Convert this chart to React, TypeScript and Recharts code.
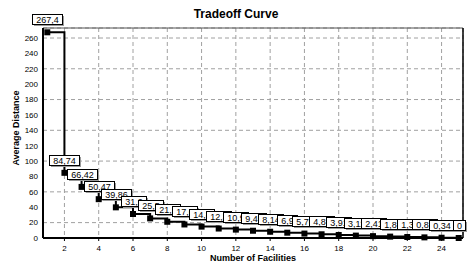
import { LineChart, Line, XAxis, YAxis, CartesianGrid, LabelList, ReferenceLine } from 'recharts';

const facilities = [1, 2, 3, 4, 5, 6, 7, 8, 9, 10, 11, 12, 13, 14, 15, 16, 17, 18, 19, 20, 21, 22, 23, 24, 25];
const avgDistance = [
  267.4, 84.74, 66.42, 50.47, 39.86, 31.2, 25.5, 21.1, 17.6, 14.8, 12.3, 10.9, 9.45,
  8.14, 6.9, 5.76, 4.83, 3.91, 3.11, 2.41, 1.8, 1.3, 0.82, 0.34, 0,
];
const xTicks = [2, 4, 6, 8, 10, 12, 14, 16, 18, 20, 22, 24];
const yTicks = [0, 20, 40, 60, 80, 100, 120, 140, 160, 180, 200, 220, 240, 260];

const data = facilities.map((n, i) => ({ n, d: avgDistance[i] }));

const FONT = '"Liberation Sans", Arial, sans-serif';

let canvas: HTMLCanvasElement | null = null;
function textWidth(s: string, font: string) {
  if (!canvas) canvas = document.createElement('canvas');
  const ctx = canvas.getContext('2d');
  if (!ctx) return s.length * 5;
  ctx.font = font;
  return ctx.measureText(s).width;
}

// boxed value label above each point, comma decimal like the original
function ValueBox(props: any) {
  const { x, y, value } = props;
  const txt = String(value).replace('.', ',');
  const w = Math.round(textWidth(txt, `9px ${FONT}`)) + 7;
  const h = 10;
  const bx = Math.round(x - w / 2) + 0.5;
  const by = Math.round(y - 8 - h) + 0.5;
  return (
    <g>
      <rect x={bx + 1.5} y={by + 1.5} width={w} height={h} fill="#9a9a9a" />
      <rect x={bx} y={by} width={w} height={h} fill="#fff" stroke="#000" strokeWidth={1} />
      <text x={bx + w / 2} y={by + 8} textAnchor="middle" fontSize={9} fontFamily={FONT} fill="#000">
        {txt}
      </text>
    </g>
  );
}

function SquareDot(props: any) {
  const { cx, cy } = props;
  return <rect x={cx - 3} y={cy - 3} width={6} height={6} fill="#000" />;
}

export default function App() {
  return (
    <div style={{ position: 'absolute', left: 0, top: 0, width: 472, height: 262, background: '#fff' }}>
      <div
        style={{
          position: 'absolute',
          left: 0,
          top: 7,
          width: 472,
          textAlign: 'center',
          fontFamily: FONT,
          fontWeight: 'bold',
          fontSize: 12,
          color: '#000',
          lineHeight: '14px',
        }}
      >
        Tradeoff Curve
      </div>
      <LineChart width={472} height={262} data={data} margin={{ top: 28, right: 9, left: 0, bottom: 0 }}>
        <CartesianGrid stroke="#a0a0a0" strokeDasharray="4 3" />
        <XAxis
          dataKey="n"
          type="number"
          domain={[0.75, 25.25]}
          ticks={xTicks}
          height={24}
          axisLine={{ stroke: '#000', strokeWidth: 2 }}
          tickLine={{ stroke: '#000' }}
          tickSize={3}
          tickMargin={4}
          tick={{ fontSize: 8, fontFamily: FONT, fill: '#000' }}
          label={{
            content: ({ viewBox }: any) => (
              <text
                x={viewBox.x + viewBox.width / 2}
                y={261}
                textAnchor="middle"
                fontSize={9}
                fontWeight="bold"
                fontFamily={FONT}
                fill="#000"
              >
                Number of Facilities
              </text>
            ),
          }}
        />
        <YAxis
          type="number"
          domain={[0, 273]}
          ticks={yTicks}
          width={43}
          axisLine={{ stroke: '#000', strokeWidth: 2 }}
          tickLine={false}
          tickSize={3}
          tickMargin={2}
          tick={{ fontSize: 8, fontFamily: FONT, fill: '#000' }}
          label={{
            content: ({ viewBox }: any) => {
              const cx = 19;
              const cy = viewBox.y + viewBox.height / 2 - 5;
              return (
                <text
                  x={cx}
                  y={cy}
                  transform={`rotate(-90 ${cx} ${cy})`}
                  textAnchor="middle"
                  fontSize={9}
                  fontWeight="bold"
                  fontFamily={FONT}
                  fill="#000"
                >
                  Average Distance
                </text>
              );
            },
          }}
        />
        <ReferenceLine y={273} stroke="#555" ifOverflow="visible" />
        <ReferenceLine x={25.25} stroke="#000" strokeWidth={1.5} ifOverflow="visible" />
        <Line
          type="stepAfter"
          dataKey="d"
          stroke="#000"
          strokeWidth={2}
          dot={<SquareDot />}
          activeDot={false}
          isAnimationActive={false}
        >
          <LabelList dataKey="d" content={<ValueBox />} />
        </Line>
      </LineChart>
    </div>
  );
}
